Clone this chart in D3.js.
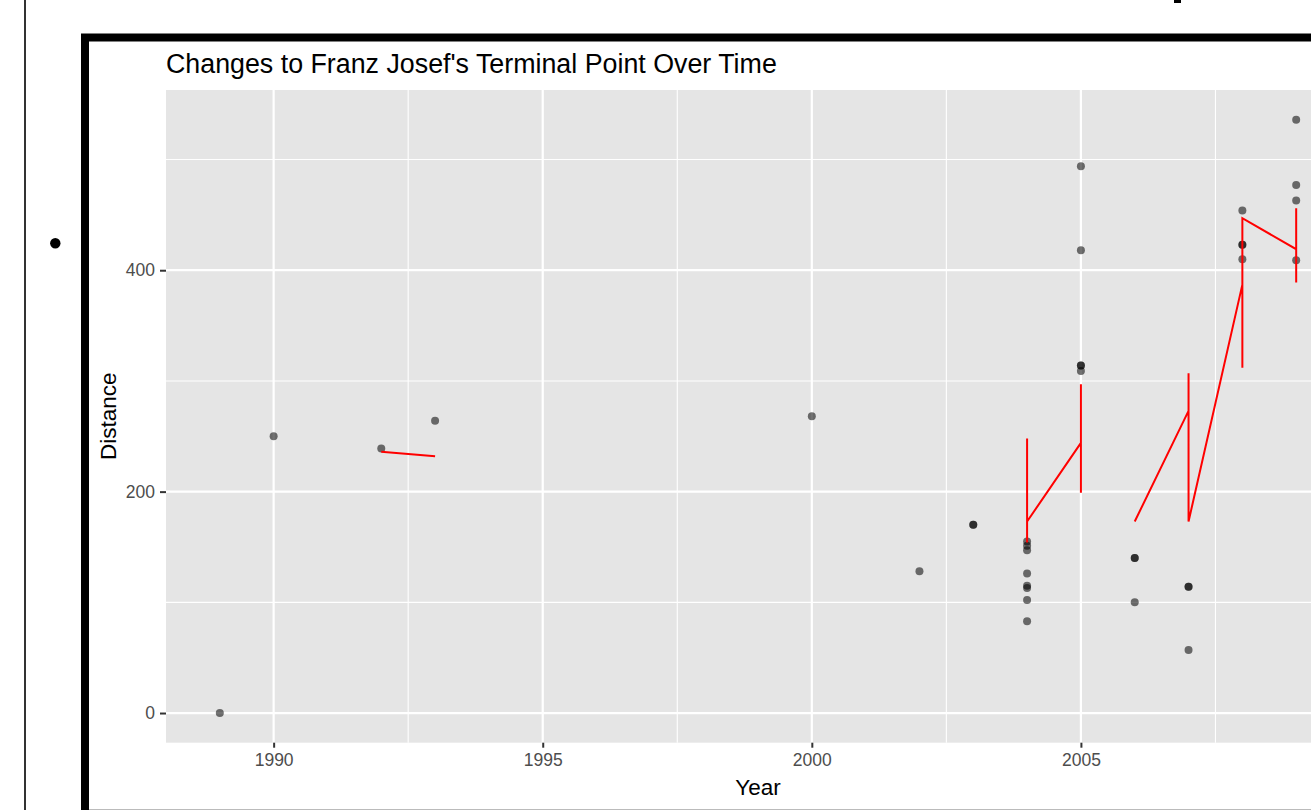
<!DOCTYPE html>
<html lang="en">
<head>
<meta charset="UTF-8">
<title>Changes to Franz Josef's Terminal Point Over Time</title>
<script src="https://d3js.org/d3.v7.min.js"></script>
<style>
  body { margin: 0; background: #fff; }
  svg { display: block; font-family: "Liberation Sans", Arial, Helvetica, sans-serif; }
  .tick line { stroke: #333; stroke-width: 2; }
  .tick text { fill: #4d4d4d; font-size: 17.5px; }
</style>
</head>
<body>
<svg id="chart" width="1311" height="810"></svg>
<script>
'use strict';

// observations (year, distance)
const pointYears = [1989, 1990, 1992, 1993, 2000, 2002, 2003, 2003,
  2004, 2004, 2004, 2004, 2004, 2004, 2004, 2004,
  2005, 2005, 2005, 2005, 2005,
  2006, 2006, 2006,
  2007, 2007, 2007,
  2008, 2008, 2008, 2008,
  2009, 2009, 2009, 2009];
const pointDistances = [0, 250, 239, 264, 268, 128, 170, 170,
  155, 151, 147, 126, 115, 113, 102, 83,
  494, 418, 314, 314, 309,
  140, 140, 100,
  114, 114, 57,
  454, 423, 423, 410,
  536, 477, 463, 409];

// red line, null = break
const lineYears = [1992, 1993, null, 2004, 2004, 2004, 2005, 2005, 2005, null,
  2006, 2007, 2007, 2007, 2008, 2008, 2008, 2009, 2009, 2009];
const lineDistances = [236, 232, null, 248, 154, 173, 244, 297, 199, null,
  173, 273, 307, 173, 387, 312, 447, 419, 456, 389];

// 2010 break sits past the right edge of the window
const xMajor = [1990, 1995, 2000, 2005];
const xMinor = [1992.5, 1997.5, 2002.5, 2007.5];
const yMajor = [0, 200, 400];
const yMinor = [100, 300, 500];

const svg = d3.select('#chart');
const panel = { left: 166, right: 1350, top: 90, bottom: 742.7 };

// page decorations around the plot
svg.append('line').attr('x1', 25).attr('x2', 25).attr('y1', 0).attr('y2', 810)
  .attr('stroke', '#333').attr('stroke-width', 2);
svg.append('circle').attr('cx', 55.3).attr('cy', 243.3).attr('r', 5.2).attr('fill', '#000');
svg.append('rect').attr('x', 1174).attr('y', 0).attr('width', 7).attr('height', 3).attr('fill', '#000');
svg.append('rect').attr('x', 85).attr('y', 37.5).attr('width', 1400).attr('height', 1000)
  .attr('fill', '#fff').attr('stroke', '#000').attr('stroke-width', 8);
svg.append('line').attr('x1', 89).attr('x2', 1311).attr('y1', 809.5).attr('y2', 809.5)
  .attr('stroke', '#bbb').attr('stroke-width', 1);

// ggplot-style 5% expansion
const xExt = d3.extent(pointYears);
const yExt = d3.extent(pointDistances);
const xPad = (xExt[1] - xExt[0]) * 0.05;
const yPad = (yExt[1] - yExt[0]) * 0.05;
const x = d3.scaleLinear().domain([xExt[0] - xPad, xExt[1] + xPad]).range([panel.left, panel.right]);
const y = d3.scaleLinear().domain([yExt[0] - yPad, yExt[1] + yPad]).range([panel.bottom, panel.top]);

svg.append('rect')
  .attr('x', panel.left).attr('y', panel.top)
  .attr('width', panel.right - panel.left).attr('height', panel.bottom - panel.top)
  .attr('fill', '#e5e5e5');

const grid = svg.append('g').attr('stroke', '#fff');
grid.selectAll('.ymin').data(yMinor).enter().append('line')
  .attr('x1', panel.left).attr('x2', panel.right)
  .attr('y1', d => y(d)).attr('y2', d => y(d)).attr('stroke-width', 1.1);
grid.selectAll('.xmin').data(xMinor).enter().append('line')
  .attr('y1', panel.top).attr('y2', panel.bottom)
  .attr('x1', d => x(d)).attr('x2', d => x(d)).attr('stroke-width', 1.1);
grid.selectAll('.ymaj').data(yMajor).enter().append('line')
  .attr('x1', panel.left).attr('x2', panel.right)
  .attr('y1', d => y(d)).attr('y2', d => y(d)).attr('stroke-width', 2.2);
grid.selectAll('.xmaj').data(xMajor).enter().append('line')
  .attr('y1', panel.top).attr('y2', panel.bottom)
  .attr('x1', d => x(d)).attr('x2', d => x(d)).attr('stroke-width', 2.2);

// points
svg.append('g').selectAll('circle')
  .data(pointYears.map((yr, i) => [yr, pointDistances[i]]))
  .enter().append('circle')
  .attr('cx', d => x(d[0])).attr('cy', d => y(d[1])).attr('r', 4)
  .attr('fill', '#000').attr('fill-opacity', 0.55);

// red line
const line = d3.line()
  .defined(d => d[0] !== null && d[1] !== null)
  .x(d => x(d[0])).y(d => y(d[1]));
svg.append('path')
  .datum(lineYears.map((yr, i) => [yr, lineDistances[i]]))
  .attr('d', line)
  .attr('fill', 'none').attr('stroke', '#ff0000').attr('stroke-width', 2);

// axes
const xAxis = svg.append('g').attr('transform', `translate(0,${panel.bottom})`)
  .call(d3.axisBottom(x).tickValues(xMajor).tickFormat(d3.format('d')).tickSize(5).tickPadding(6));
xAxis.select('.domain').remove();
const yAxis = svg.append('g').attr('transform', `translate(${panel.left},0)`)
  .call(d3.axisLeft(y).tickValues(yMajor).tickSize(6).tickPadding(5));
yAxis.select('.domain').remove();

// titles
svg.append('text').attr('x', panel.left).attr('y', 73)
  .attr('font-size', 26.8).attr('fill', '#000')
  .text("Changes to Franz Josef's Terminal Point Over Time");
svg.append('text').attr('x', (panel.left + panel.right) / 2).attr('y', 795)
  .attr('text-anchor', 'middle').attr('font-size', 22.5).attr('fill', '#000')
  .text('Year');
svg.append('text')
  .attr('transform', `translate(116,${(panel.top + panel.bottom) / 2}) rotate(-90)`)
  .attr('text-anchor', 'middle').attr('font-size', 22.5).attr('fill', '#000')
  .text('Distance');
</script>
</body>
</html>
